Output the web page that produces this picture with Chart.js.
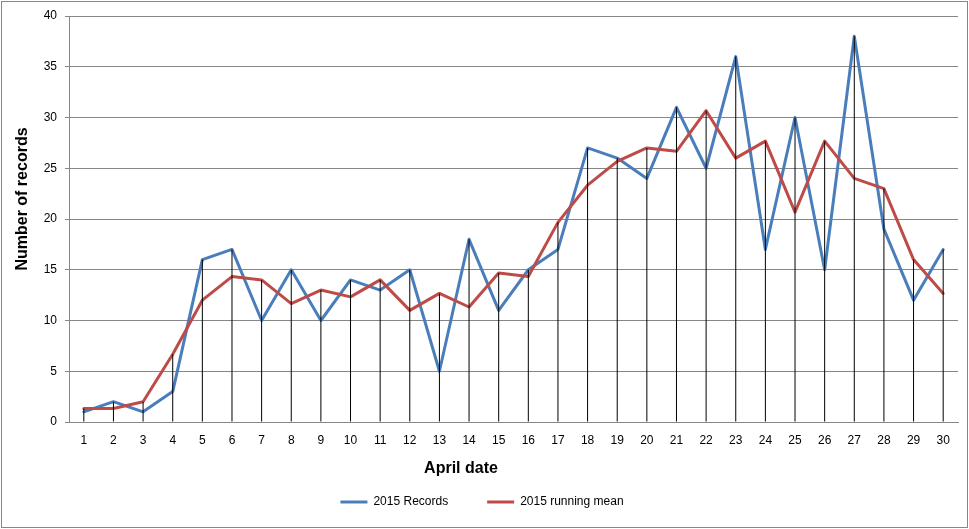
<!DOCTYPE html>
<html>
<head>
<meta charset="utf-8">
<script src="https://cdn.jsdelivr.net/npm/chart.js@4.4.1/dist/chart.umd.min.js"></script>
<style>
html,body{margin:0;padding:0;background:#fff;}
#wrap{position:relative;width:969px;height:529px;overflow:hidden;}
#frame{position:absolute;left:1px;top:1px;width:965px;height:525px;border:1px solid #868686;pointer-events:none;}
canvas{display:block;}
</style>
</head>
<body>
<div id="wrap"><canvas id="c" width="969" height="529"></canvas><div id="frame"></div></div>
<script>
// ---- data ----
const days = ['1','2','3','4','5','6','7','8','9','10','11','12','13','14','15','16','17','18','19','20','21','22','23','24','25','26','27','28','29','30'];
const records = [1,2,1,3,16,17,10,15,10,14,13,15,5,18,11,15,17,27,26,24,31,25,36,17,30,15,38,19,12,17];
const runningMean = [1.33,1.33,2,6.67,12,14.33,14,11.67,13,12.33,14,11,12.67,11.33,14.67,14.33,19.67,23.33,25.67,27,26.67,30.67,26,27.67,20.67,27.67,24,23,16,12.67];
const yMin = 0, yMax = 40, yStep = 5;
const seriesNames = ['2015 Records', '2015 running mean'];
const xTitle = 'April date';
const yTitle = 'Number of records';

// drop lines reach the higher of the two series at each date
const dropTops = records.map((v, i) => Math.max(v, runningMean[i]));

const FONT = '"Liberation Sans", Arial, sans-serif';

const axisTitles = {
  id: 'axisTitles',
  afterDraw(chart) {
    const ctx = chart.ctx;
    ctx.save();
    ctx.fillStyle = '#000';
    ctx.font = 'bold 16px ' + FONT;
    ctx.textAlign = 'center';
    ctx.textBaseline = 'alphabetic';
    ctx.fillText(xTitle, 461, 473);
    ctx.translate(26.5, 199);
    ctx.rotate(-Math.PI / 2);
    ctx.fillText(yTitle, 0, 0);
    ctx.restore();
  }
};

new Chart(document.getElementById('c'), {
  data: {
    labels: days,
    datasets: [
      { type: 'bar', label: 'drop lines', data: dropTops, backgroundColor: '#000', borderWidth: 0, barThickness: 1, inflateAmount: 0, order: 0 },
      { type: 'line', label: seriesNames[0], data: records, borderColor: '#4a7ebb', backgroundColor: '#4a7ebb', borderWidth: 3, borderJoinStyle: 'round', borderCapStyle: 'round', pointRadius: 0, tension: 0, order: 2 },
      { type: 'line', label: seriesNames[1], data: runningMean, borderColor: '#be4b48', backgroundColor: '#be4b48', borderWidth: 3, borderJoinStyle: 'round', borderCapStyle: 'round', pointRadius: 0, tension: 0, order: 1 }
    ]
  },
  options: {
    responsive: false,
    animation: false,
    devicePixelRatio: 1,
    layout: { padding: { left: 6, right: 11, top: 16, bottom: 11 } },
    plugins: {
      legend: {
        position: 'bottom',
        labels: {
          filter: item => item.datasetIndex !== 0,
          sort: (a, b) => a.datasetIndex - b.datasetIndex,
          usePointStyle: true,
          pointStyle: 'line',
          pointStyleWidth: 27,
          padding: 39,
          color: '#000',
          font: { family: FONT, size: 12 }
        }
      },
      tooltip: { enabled: false }
    },
    scales: {
      x: {
        offset: true,
        grid: { display: false, drawTicks: false },
        border: { display: true, color: '#868686', width: 1 },
        ticks: { padding: 11, color: '#000', autoSkip: false, maxRotation: 0, font: { family: FONT, size: 12 } },
        afterFit(s) { s.height = 35; }
      },
      y: {
        min: yMin, max: yMax,
        ticks: { stepSize: yStep, padding: 8, color: '#000', font: { family: FONT, size: 12 } },
        grid: { color: '#868686', lineWidth: 1, tickLength: 4, drawTicks: true },
        border: { display: true, color: '#868686', width: 1 },
        afterFit(s) { s.width = 63; }
      }
    }
  },
  plugins: [axisTitles]
});
</script>
</body>
</html>
